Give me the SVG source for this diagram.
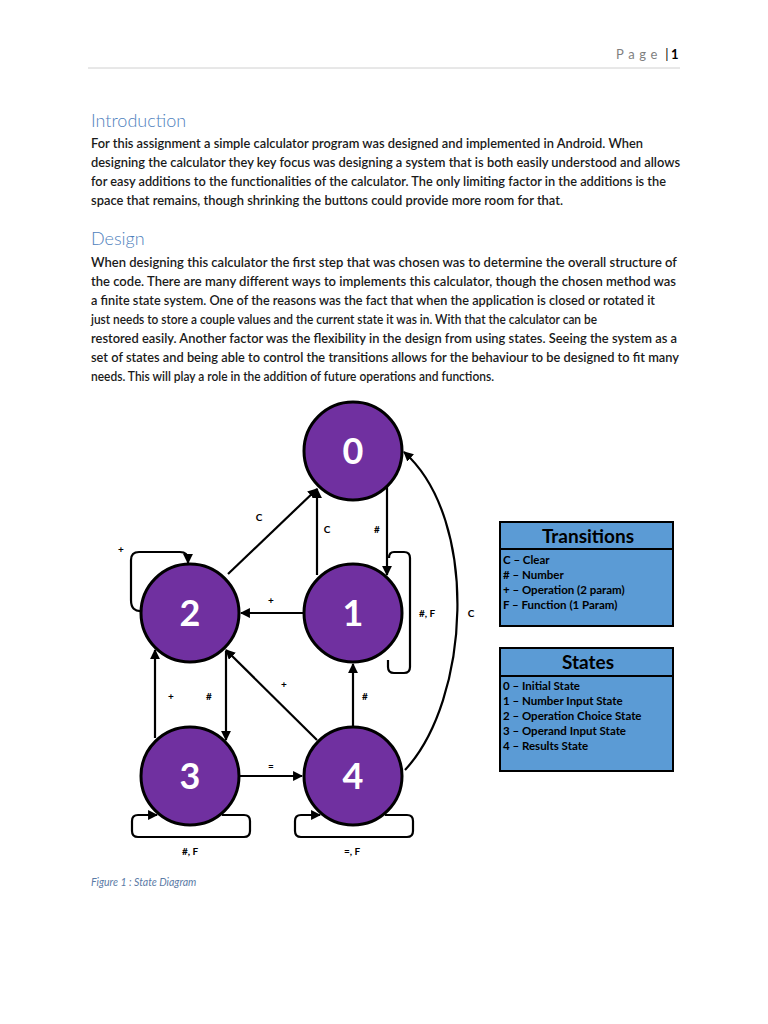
<svg xmlns="http://www.w3.org/2000/svg" width="768" height="1024" viewBox="0 0 768 1024">
<style>
.body{font-family:Lato,"Open Sans","Liberation Sans",sans-serif;font-size:13.2px;font-weight:600;fill:#1a1a1a}
.head{font-family:Lato,"Open Sans","Liberation Sans",sans-serif;font-size:18px;font-weight:300;fill:#4F81BD}
.node circle{fill:#7030A0;stroke:#000;stroke-width:3}
.node text{font-family:Lato,"Open Sans","Liberation Sans",sans-serif;font-size:36px;font-weight:bold;fill:#fff;text-anchor:middle}
.edge{fill:none;stroke:#000;stroke-width:2.2}
.lbl{font-family:Lato,"Open Sans","Liberation Sans",sans-serif;font-size:10px;font-weight:bold;fill:#000;text-anchor:middle}
.box{fill:#5B9BD5;stroke:#000;stroke-width:2}
.btitle{font-family:Lato,"Open Sans","Liberation Sans",sans-serif;font-size:19px;font-weight:bold;fill:#000;text-anchor:middle}
.bitem{font-family:Lato,"Open Sans","Liberation Sans",sans-serif;font-size:11.5px;font-weight:bold;fill:#000}
</style>
<defs>
<marker id="arr" viewBox="0 0 10 10" refX="9" refY="5" markerWidth="4.5" markerHeight="4.5" orient="auto" markerUnits="strokeWidth">
<path d="M0,0 L10,5 L0,10 z" fill="#000"/>
</marker>
</defs>
<rect width="768" height="1024" fill="#fff"/>

<g id="page-header">
<text x="616" y="59" font-family="Lato,'Liberation Sans',sans-serif" font-size="13" fill="#7F7F7F" letter-spacing="4.6">Page<tspan fill="#000" letter-spacing="0"> |</tspan><tspan fill="#000" font-weight="bold" letter-spacing="0" x="671">1</tspan></text>
<line x1="88" y1="68" x2="680" y2="68" stroke="#d0d0d0" stroke-width="1"/>
</g>

<g id="text">
<text class="head" x="91" y="127">Introduction</text>
<text class="body" x="91" y="148" textLength="552" lengthAdjust="spacingAndGlyphs">For this assignment a simple calculator program was designed and implemented in Android. When</text>
<text class="body" x="91" y="167" textLength="589" lengthAdjust="spacingAndGlyphs">designing the calculator they key focus was designing a system that is both easily understood and allows</text>
<text class="body" x="91" y="186" textLength="575" lengthAdjust="spacingAndGlyphs">for easy additions to the functionalities of the calculator. The only limiting factor in the additions is the</text>
<text class="body" x="91" y="205" textLength="472" lengthAdjust="spacingAndGlyphs">space that remains, though shrinking the buttons could provide more room for that.</text>
<text class="head" x="91" y="245">Design</text>
<text class="body" x="91" y="267" textLength="586" lengthAdjust="spacingAndGlyphs">When designing this calculator the first step that was chosen was to determine the overall structure of</text>
<text class="body" x="91" y="286" textLength="585" lengthAdjust="spacingAndGlyphs">the code. There are many different ways to implements this calculator, though the chosen method was</text>
<text class="body" x="91" y="305" textLength="564" lengthAdjust="spacingAndGlyphs">a finite state system. One of the reasons was the fact that when the application is closed or rotated it</text>
<text class="body" x="91" y="324" textLength="506" lengthAdjust="spacingAndGlyphs">just needs to store a couple values and the current state it was in. With that the calculator can be</text>
<text class="body" x="91" y="343" textLength="586" lengthAdjust="spacingAndGlyphs">restored easily. Another factor was the flexibility in the design from using states. Seeing the system as a</text>
<text class="body" x="91" y="362" textLength="588" lengthAdjust="spacingAndGlyphs">set of states and being able to control the transitions allows for the behaviour to be designed to fit many</text>
<text class="body" x="91" y="381" textLength="403" lengthAdjust="spacingAndGlyphs">needs. This will play a role in the addition of future operations and functions.</text>
<text x="91" y="886" font-family="Lato,'Liberation Sans',sans-serif" font-size="10.5" font-style="italic" fill="#5B7BA6">Figure 1 : State Diagram</text>
</g>

<g id="connectors">
<path class="edge" marker-end="url(#arr)" d="M228 574 L317 489"/>
<path class="edge" marker-end="url(#arr)" d="M317 575 L317 489"/>
<path class="edge" marker-end="url(#arr)" d="M387 487 L387 575"/>
<path class="edge" d="M388 660 L388 667 Q388 673 394 673 L404 673 Q410 673 410 667 L410 558 Q410 552 404 552 L394 552 Q389 552 389 558"/>
<path class="edge" marker-end="url(#arr)" d="M405 770 C470 700 480 520 404 452"/>
<path class="edge" marker-end="url(#arr)" d="M303 613 L241 613"/>
<path class="edge" marker-end="url(#arr)" d="M142 611 Q131 612 131 600 L131 560 Q131 552 139 552 L180 552 Q188 552 188 560 L188 563"/>
<path class="edge" marker-end="url(#arr)" d="M155 738 L155 650"/>
<path class="edge" marker-end="url(#arr)" d="M226 651 L226 740"/>
<path class="edge" marker-end="url(#arr)" d="M317 740 L226 650"/>
<path class="edge" marker-end="url(#arr)" d="M353 726 L353 664"/>
<path class="edge" marker-end="url(#arr)" d="M240 776 L302 776"/>
<path class="edge" marker-end="url(#arr)" d="M222 815 L244 815 Q250 815 250 821 L250 831 Q250 837 244 837 L138 837 Q132 837 132 831 L132 821 Q132 815 138 815 L157 815"/>
<path class="edge" marker-end="url(#arr)" d="M385 815 L407 815 Q413 815 413 821 L413 831 Q413 837 407 837 L301 837 Q295 837 295 831 L295 821 Q295 815 301 815 L320 815"/>
</g>

<g id="edge-labels">
<text class="lbl" x="259" y="521">C</text>
<text class="lbl" x="327" y="533">C</text>
<text class="lbl" x="377" y="533">#</text>
<text class="lbl" x="427" y="617">#, F</text>
<text class="lbl" x="471" y="617">C</text>
<text class="lbl" x="121" y="553">+</text>
<text class="lbl" x="271" y="604">+</text>
<text class="lbl" x="171" y="700">+</text>
<text class="lbl" x="209" y="700">#</text>
<text class="lbl" x="284" y="688">+</text>
<text class="lbl" x="365" y="700">#</text>
<text class="lbl" x="271" y="770">=</text>
<text class="lbl" x="190" y="855">#, F</text>
<text class="lbl" x="352" y="855">=, F</text>
</g>

<g id="node-0" class="node"><circle cx="353" cy="451" r="49"/><text x="353" y="464">0</text></g>
<g id="node-1" class="node"><circle cx="353" cy="613" r="49"/><text x="353" y="626">1</text></g>
<g id="node-2" class="node"><circle cx="190" cy="613" r="49"/><text x="190" y="626">2</text></g>
<g id="node-3" class="node"><circle cx="190" cy="776" r="49"/><text x="190" y="789">3</text></g>
<g id="node-4" class="node"><circle cx="353" cy="776" r="49"/><text x="353" y="789">4</text></g>

<g id="transitions-box">
<rect class="box" x="500" y="522" width="173" height="104"/>
<line x1="500" y1="549" x2="673" y2="549" stroke="#000" stroke-width="2"/>
<text class="btitle" x="588" y="543">Transitions</text>
<text class="bitem" x="503" y="564">C – Clear</text>
<text class="bitem" x="503" y="579">#  – Number</text>
<text class="bitem" x="503" y="594">+  – Operation (2 param)</text>
<text class="bitem" x="503" y="609">F – Function (1 Param)</text>
</g>

<g id="states-box">
<rect class="box" x="500" y="648" width="173" height="123"/>
<line x1="500" y1="676" x2="673" y2="676" stroke="#000" stroke-width="2"/>
<text class="btitle" x="588" y="669">States</text>
<text class="bitem" x="503" y="690">0 – Initial State</text>
<text class="bitem" x="503" y="705">1 – Number Input State</text>
<text class="bitem" x="503" y="720">2 – Operation Choice State</text>
<text class="bitem" x="503" y="735">3 – Operand Input State</text>
<text class="bitem" x="503" y="750">4 – Results State</text>
</g>
</svg>
